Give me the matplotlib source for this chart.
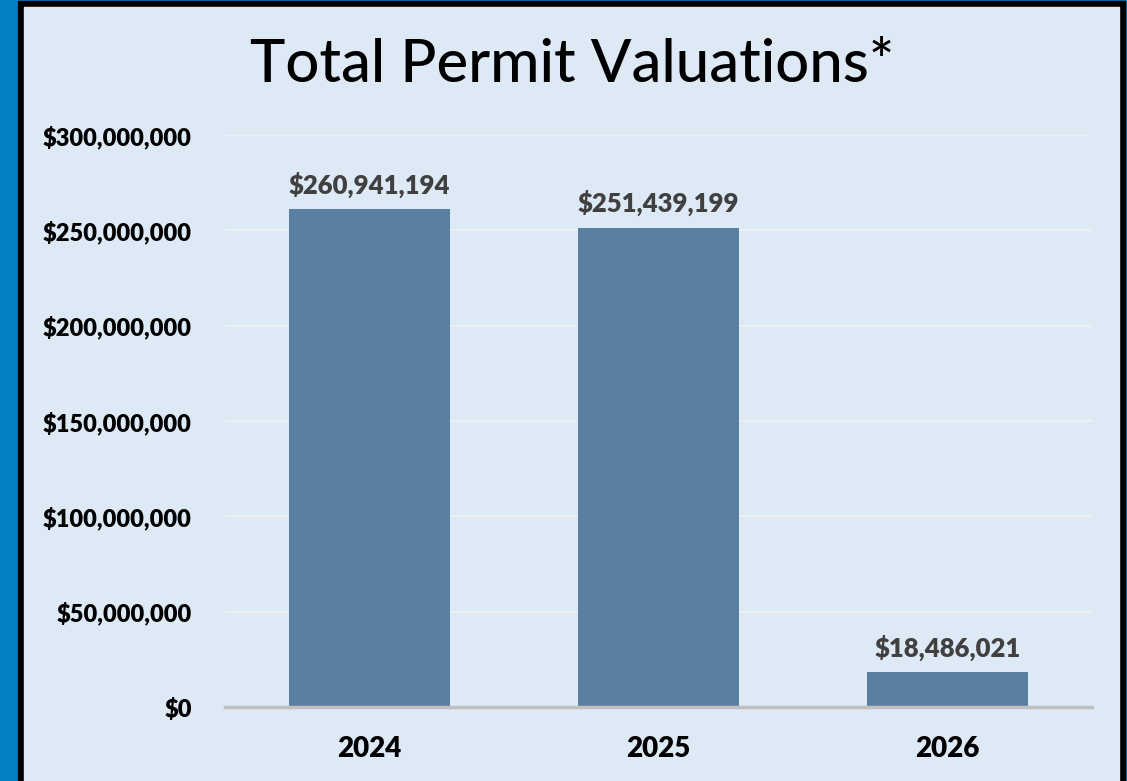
import matplotlib.pyplot as plt
from matplotlib.patches import Rectangle
from matplotlib.ticker import FuncFormatter

years = ['2024', '2025', '2026']
valuations = [260941194, 251439199, 18486021]

BG = '#dde9f5'
BAR = '#5b7fa0'
W, H = 1127, 781

plt.rcParams['font.family'] = ['Lato', 'DejaVu Sans']

fig = plt.figure(figsize=(W / 100, H / 100), dpi=100)
fig.patch.set_facecolor('#0580c4')

# black frame and light panel, in pixels
fig.patches.append(Rectangle((18 / W, 0), (1125 - 18) / W, (H - 1) / H,
                             transform=fig.transFigure, color='black', zorder=0))
fig.patches.append(Rectangle((24 / W, 0), (1119 - 24) / W, (H - 7) / H,
                             transform=fig.transFigure, color=BG, zorder=0))

ax = fig.add_axes([225 / W, 1 - 707 / H, (1092 - 225) / W, (707 - 135) / H])
ax.set_zorder(2)
ax.set_facecolor('none')

x = range(len(years))
bars = ax.bar(x, valuations, width=0.557, color=BAR, zorder=3)

for b, v in zip(bars, valuations):
    ax.annotate(f'${v:,.0f}', (b.get_x() + b.get_width() / 2, v),
                xytext=(0, 8), textcoords='offset points',
                ha='center', va='bottom', fontsize=18.5,
                fontweight='heavy', color='#404040')

ax.set_xlim(-0.5, 2.5)
ax.set_ylim(0, 300000000)
ax.set_yticks(range(0, 300000001, 50000000))
ax.yaxis.set_major_formatter(FuncFormatter(lambda v, p: f'${v:,.0f}'))
ax.set_xticks(list(x))
ax.set_xticklabels(years)

ax.grid(axis='y', color='#eef1f5', linewidth=1.3, zorder=0)
ax.set_axisbelow(True)
for s in ['top', 'right', 'left']:
    ax.spines[s].set_visible(False)
ax.spines['bottom'].set_color('#bfbfbf')
ax.spines['bottom'].set_linewidth(2.5)
ax.spines['bottom'].set_zorder(4)

ax.tick_params(axis='both', length=0)
ax.tick_params(axis='y', pad=24, labelsize=17)
ax.tick_params(axis='x', pad=21, labelsize=20)
for lab in ax.get_yticklabels() + ax.get_xticklabels():
    lab.set_fontweight('heavy')
    lab.set_color('black')

fig.text(572 / W, 1 - 65 / H, 'Total Permit Valuations*', ha='center', va='center',
         fontsize=43, fontweight='medium', color='black', zorder=3)

fig.savefig('out.png', dpi=100, facecolor=fig.get_facecolor())
